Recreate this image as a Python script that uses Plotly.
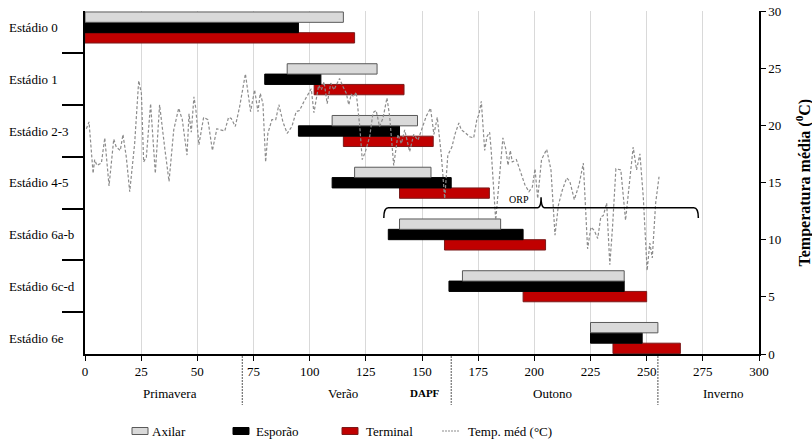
import plotly.graph_objects as go

# Phenological stages (top to bottom)
stages = ["Estádio 0", "Estádio 1", "Estádio 2-3", "Estádio 4-5",
          "Estádio 6a-b", "Estádio 6c-d", "Estádio 6e"]

# Start / end (days after pruning, DAPF) of each stage per bud position
axilar_start = [0, 90, 110, 120, 140, 168, 225]
axilar_end = [115, 130, 148, 154, 185, 240, 255]
esporao_start = [0, 80, 95, 110, 135, 162, 225]
esporao_end = [95, 105, 140, 163, 195, 240, 248]
terminal_start = [0, 102, 115, 140, 160, 195, 235]
terminal_end = [120, 142, 155, 180, 205, 250, 265]

# Mean daily temperature (°C)
temp_day = [0.6, 1.8, 3.6, 4.3, 5.3, 7.3, 8.8, 10.7, 12.8, 13.9, 15.7, 16.9, 18.4, 19.9,
            22.1, 23.9, 25.1, 26.1, 27.3, 29.2, 31.3, 33.2, 35.5, 37.4, 39.5, 41.7, 43.3,
            45.4, 46.3, 47.3, 48.5, 49.3, 50.7, 52.8, 54.7, 56.7, 58.7, 61.1, 62.2, 63.9,
            65.1, 66.9, 68.8, 71.4, 73.7, 75.5, 77.0, 78.0, 79.2, 80.4, 81.4, 83.2, 84.9,
            86.3, 88.1, 90.0, 92.1, 94.0, 95.5, 97.5, 99.2, 100.7, 101.9, 102.9, 104.0,
            105.2, 106.4, 107.8, 109.4, 110.8, 111.9, 113.3, 114.8, 116.3, 117.4, 118.5,
            119.7, 120.7, 122.3, 123.4, 124.8, 126.7, 128.2, 129.6, 131.1, 132.6, 134.4,
            135.6, 137.4, 139.3, 140.8, 142.3, 144.5, 146.3, 148.2, 150.4, 151.9, 153.8,
            155.3, 156.8, 158.6, 160.1, 161.5, 163.3, 164.8, 166.4, 167.5, 169.0, 171.2,
            173.0, 174.5, 175.3, 176.4, 177.9, 178.9, 180.1, 180.8, 182.8, 184.2, 186.0,
            187.2, 188.3, 189.3, 190.2, 192.0, 193.6, 195.8, 197.6, 199.1, 200.3, 201.5,
            203.2, 205.5, 207.4, 209.2, 210.7, 212.4, 214.4, 215.8, 217.8, 219.9, 221.8,
            223.7, 225.2, 226.7, 228.2, 229.6, 230.7, 232.2, 233.6, 234.8, 236.3, 238.5,
            240.6, 242.1, 244.0, 245.5, 247.0, 248.5, 250.2, 251.4, 252.5, 254.0, 255.5]
temp_val = [19.7, 20.3, 15.8, 17.0, 16.5, 16.7, 18.9, 14.7, 18.8, 18.1, 17.8, 19.2, 17.2, 14.2,
            18.4, 23.9, 22.8, 16.8, 17.2, 21.9, 15.8, 21.8, 18.0, 15.1, 19.6, 21.5, 20.5,
            17.4, 21.0, 19.4, 22.5, 21.5, 18.3, 20.7, 20.5, 17.8, 19.7, 19.6, 19.5, 20.7,
            20.6, 19.9, 21.6, 24.5, 21.2, 23.1, 21.2, 22.8, 21.9, 16.8, 19.3, 20.5, 20.5,
            21.8, 20.3, 19.3, 19.9, 21.2, 21.3, 22.1, 22.7, 23.2, 21.1, 22.2, 23.5,
            23.1, 23.8, 21.9, 23.7, 23.1, 23.5, 24.1, 23.4, 22.8, 21.8, 22.7,
            22.5, 22.9, 19.9, 17.0, 17.7, 19.0, 21.1, 21.3, 19.9, 20.6, 22.4,
            20.8, 16.5, 19.2, 18.4, 19.6, 17.7, 19.2, 18.7, 19.9, 20.8, 21.5,
            19.2, 20.7, 17.4, 13.6, 17.4, 18.1, 19.3, 20.2, 19.6, 19.4, 19.0,
            18.9, 20.6, 20.9, 22.1, 17.8, 19.0, 19.4, 17.8, 11.7, 15.2, 18.9,
            18.0, 16.5, 17.8, 16.8, 17.0, 16.1, 14.8, 14.2, 14.6, 16.2, 13.6,
            17.0, 17.9, 16.1, 10.4, 13.0, 14.3, 15.4, 15.1, 13.5, 14.8, 16.7,
            9.2, 11.1, 10.8, 10.1, 12.0, 12.1, 13.2, 7.8, 11.1, 16.2, 16.1,
            11.7, 14.6, 18.1, 16.1, 17.5, 13.7, 7.3, 9.7, 8.4, 13.2, 15.5]

# Seasons along the DAPF axis
season_bounds = [70, 163, 255]
season_names = ["Primavera", "Verão", "Outono", "Inverno"]
season_label_x = [38, 115, 208, 284]

# ORP bracket (days) and its height on the temperature axis
orp_start, orp_mid, orp_end = 133, 203, 273
orp_level = 12.8

FONT = "Liberation Serif, Times New Roman, serif"

# Series styling: name, starts, ends, fill, edge
bar_specs = [
    ("Terminal", terminal_start, terminal_end, "#c00000", "#7a1a1a"),
    ("Esporão", esporao_start, esporao_end, "#000000", "#000000"),
    ("Axilar", axilar_start, axilar_end, "#d9d9d9", "#595959"),
]
temp_color = "#8c8c8c"

fig = go.Figure()

# Horizontal grouped bars; first trace sits at the bottom of each group
for name, s, e, fill, edge in bar_specs:
    fig.add_trace(go.Bar(
        y=stages, x=[b - a for a, b in zip(s, e)], base=s, orientation="h",
        name=name, marker=dict(color=fill, line=dict(color=edge, width=1)),
        yaxis="y", showlegend=False,
    ))

fig.add_trace(go.Scatter(
    x=temp_day, y=temp_val, mode="lines", name="Temp. méd (°C)",
    line=dict(color=temp_color, width=1.2, dash="3px,2px"),
    yaxis="y2", showlegend=False,
))

# Plot-area geometry in pixels (used for paper-coordinate placement)
L, T, W, H = 85, 11, 674, 343


def px_x(px):
    return (px - L) / W


def px_y(py):
    return (T + H - py) / H


annotations = []
for st in stages:
    annotations.append(dict(
        x=px_x(7), xref="paper", y=st, yref="y", text=st, showarrow=False,
        xanchor="left", yanchor="middle", font=dict(family=FONT, size=13, color="#000"),
    ))

for name, xpos in zip(season_names, season_label_x):
    annotations.append(dict(
        x=xpos, xref="x", y=px_y(393), yref="paper", text=name, showarrow=False,
        xanchor="center", yanchor="middle", font=dict(family=FONT, size=13, color="#000"),
    ))
annotations.append(dict(
    x=151.3, xref="x", y=px_y(393), yref="paper", text="<b>DAPF</b>", showarrow=False,
    xanchor="center", yanchor="middle", font=dict(family=FONT, size=11, color="#000"),
))
annotations.append(dict(
    x=193.2, xref="x", y=orp_level + 0.75, yref="y2", text="ORP", showarrow=False,
    xanchor="center", yanchor="middle", font=dict(family=FONT, size=10, color="#000"),
))
annotations.append(dict(
    x=px_x(804), xref="paper", y=0.5, yref="paper",
    text="<b>Temperatura média (<sup>0</sup>C)</b>", textangle=-90, showarrow=False,
    xanchor="center", yanchor="middle",
    font=dict(family=FONT, size=16, color="#000"),
))

shapes = []
for b in season_bounds:
    shapes.append(dict(
        type="line", xref="x", yref="paper", x0=b, x1=b, y0=px_y(356), y1=px_y(405),
        line=dict(color="#555555", width=1, dash="2px,1px"),
    ))

lo = orp_level - 0.9
tip = orp_level + 0.9
brace = (f"M {orp_start},{lo} Q {orp_start},{orp_level} {orp_start + 2},{orp_level} "
         f"L {orp_mid - 1.5},{orp_level} Q {orp_mid},{orp_level} {orp_mid},{tip} "
         f"Q {orp_mid},{orp_level} {orp_mid + 1.5},{orp_level} "
         f"L {orp_end - 2},{orp_level} Q {orp_end},{orp_level} {orp_end},{lo}")
shapes.append(dict(type="path", xref="x", yref="y2", path=brace,
                   line=dict(color="#000", width=1.5)))

# Legend row below the axis: swatch + label for each series
legend_y = px_y(431)
legend_items = [
    ("Axilar", "#d9d9d9", "#595959", 132, 150),
    ("Esporão", "#000000", "#000000", 233, 254),
    ("Terminal", "#c00000", "#7a1a1a", 342, 364),
]
half_h = 3.5 / H
for label, fill, edge, sx, tx in legend_items:
    shapes.append(dict(
        type="rect", xref="paper", yref="paper", x0=px_x(sx), x1=px_x(sx + 16),
        y0=legend_y - half_h, y1=legend_y + half_h, fillcolor=fill,
        line=dict(color=edge, width=1),
    ))
    annotations.append(dict(
        x=px_x(tx), xref="paper", y=legend_y, yref="paper", text=label, showarrow=False,
        xanchor="left", yanchor="middle", font=dict(family=FONT, size=13, color="#000"),
    ))
shapes.append(dict(
    type="line", xref="paper", yref="paper", x0=px_x(442), x1=px_x(459),
    y0=legend_y, y1=legend_y, line=dict(color=temp_color, width=1.2, dash="2px,1px"),
))
annotations.append(dict(
    x=px_x(466), xref="paper", y=legend_y, yref="paper", text="Temp. méd (°C)",
    showarrow=False, xanchor="left", yanchor="middle",
    font=dict(family=FONT, size=13, color="#000"),
))

fig.update_layout(
    width=812, height=441,
    margin=dict(l=L, r=812 - L - W, t=T, b=441 - T - H, autoexpand=False),
    paper_bgcolor="white", plot_bgcolor="white",
    barmode="group", bargap=0.4, bargroupgap=0,
    showlegend=False,
    font=dict(family=FONT, size=13, color="#000"),
    xaxis=dict(
        range=[0, 300], dtick=25, tick0=0, showgrid=True, gridcolor="#d9d9d9", gridwidth=1,
        showline=True, linecolor="#000", linewidth=1.5, ticks="outside", ticklen=5,
        tickcolor="#000", zeroline=False, tickfont=dict(family=FONT, size=13),
    ),
    yaxis=dict(
        type="category", categoryorder="array", categoryarray=stages[::-1],
        range=[-0.309, 6.319], showline=True, linecolor="#000", linewidth=1.5,
        ticks="outside", tickson="boundaries", ticklen=21, tickcolor="#000", tickwidth=1.5,
        showticklabels=False, showgrid=False, zeroline=False,
    ),
    yaxis2=dict(
        overlaying="y", side="right", range=[0, 30], dtick=5, showgrid=False,
        showline=True, linecolor="#000", linewidth=1.5, ticks="outside", ticklen=5,
        tickcolor="#000", zeroline=False, tickfont=dict(family=FONT, size=13),
    ),
    annotations=annotations, shapes=shapes,
)

fig.write_html("out.html")
